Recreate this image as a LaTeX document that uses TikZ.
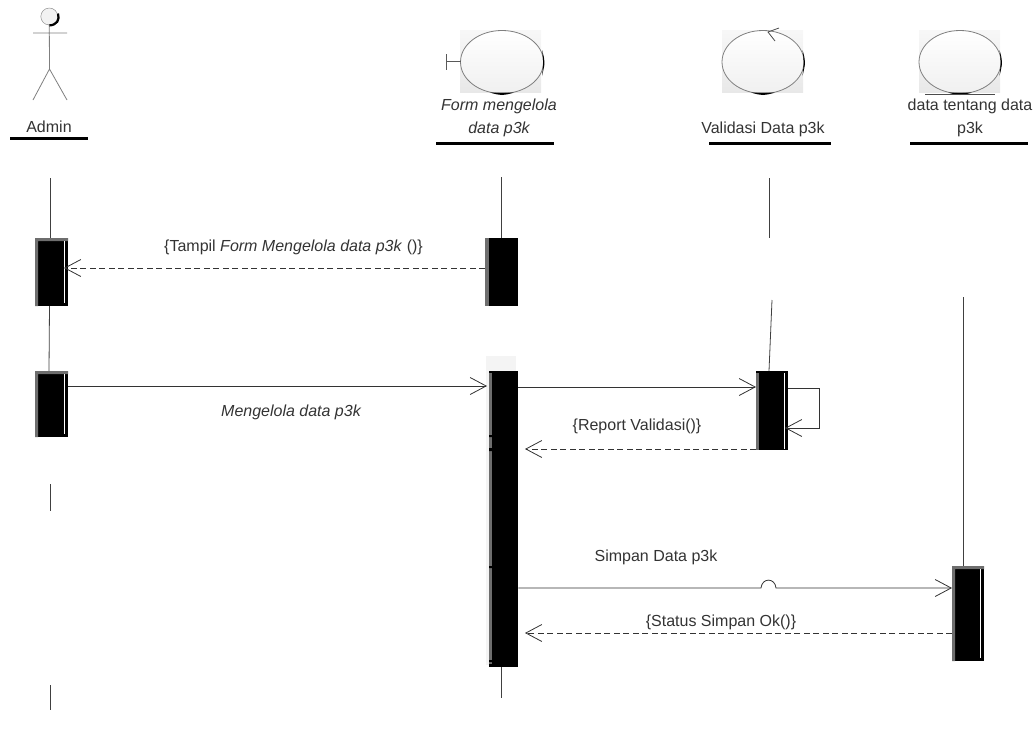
\documentclass[tikz,border=0pt]{standalone}
\usepackage{fontspec}
\setmainfont{Liberation Sans}
\usetikzlibrary{arrows.meta,calc}
\definecolor{txt}{HTML}{333333}
\definecolor{ringc}{HTML}{7F7F7F}
\definecolor{stripc}{HTML}{6E6E6E}
\definecolor{backc}{HTML}{EDEDED}
\tikzset{
  x=1pt,y=-1pt,
  lbl/.style={inner sep=0pt,text=txt,font=\fontsize{16}{23}\selectfont,align=center},
  hdr/.style={line width=3pt,black},
  life/.style={line width=0.8pt,black!75},
  barb/.style={-{Straight Barb[length=16pt,width=17pt,line width=0.8pt]}},
  msg/.style={line width=0.8pt,black!80,barb},
  ret/.style={msg,dash pattern=on 6pt off 3.5pt},
  actbox/.style={fill=black,draw=none,inner sep=0pt,anchor=north west},
  backbox/.style={fill=backc!60,draw=none,inner sep=0pt,anchor=north west},
}
\begin{document}
\begin{tikzpicture}
\useasboundingbox (0,0) rectangle (1034,737);
% Actor
\node[draw=ringc,fill=black!5,circle,minimum size=17pt,inner sep=0pt] (head) at (49.3,16.5) {};
\draw[line width=2.2pt,black] (58,13.5) .. controls (60,20) and (57,25) .. (49,25.5);
\coordinate (shL) at (33,33); \coordinate (shR) at (67,33);
\coordinate (hip) at (49.5,69); \coordinate (lL) at (33,100); \coordinate (lR) at (67,100);
\draw[ringc,line width=0.8pt] (head.south) -- (hip) (shL) -- (shR) (hip) -- (lL) (hip) -- (lR);
% Entities with boundary, control and data marks
\foreach \nm/\bx/\cx/\rx in {bF/460/502/41.5,bV/722/763/41,bD/919/960/41}{
  \fill[top color=black!3,bottom color=black!9] (\bx,30) rectangle (\bx+81,92.5);
  \draw[ringc,line width=0.8pt,top color=white,bottom color=black!6] (\cx,62) ellipse[x radius=\rx,y radius=31.5];
  \coordinate (\nm) at (\cx,62);
  \fill[black] (\cx-12,92.6) .. controls (\cx,95.8) .. (\cx+12,92.6) .. controls (\cx,93.5) .. cycle;
  \fill[black] (\cx+\rx-1.5,50) .. controls (\cx+\rx+1.8,62) .. (\cx+\rx-1.5,76) .. controls (\cx+\rx,62) .. cycle;
}
\coordinate (tA) at (446.5,61); \coordinate (tB) at (446.5,54); \coordinate (tC) at (446.5,70); \coordinate (tE) at (461,61);
\draw[ringc!70!black,line width=0.8pt] (tB) -- (tC) (tA) -- (tE);
\coordinate (cA) at (768,32); \coordinate (cB) at (779,28); \coordinate (cC) at (775,41);
\draw[black!70,line width=0.8pt] (cB) -- (cA) -- (cC);
\coordinate (uL) at (925,94); \coordinate (uR) at (995,94);
\draw[black!70,line width=0.8pt] (uL) -- (uR);
% Header labels
\node[lbl] (lAdmin) at (49,127) {Admin};
\node[lbl] (lForm) at (499,118) {\itshape Form mengelola\\\itshape data p3k};
\node[lbl] (lVal) at (763,129) {Validasi Data p3k};
\node[lbl] (lData) at (970,118) {data tentang data\\p3k};
\draw[hdr] (10,138) -- (88,138);
\draw[hdr] (436,143) -- (554,143);
\draw[hdr] (709,143) -- (831,143);
\draw[hdr] (910,143) -- (1028,143);
% Activation boxes
\node[backbox,minimum width=30pt,minimum height=309pt] (fBack) at (486,356) {};
\node[actbox,minimum width=33pt,minimum height=68pt] (aA1) at (35,238) {};
\node[actbox,minimum width=33pt,minimum height=66pt] (aA2) at (35,371) {};
\node[actbox,minimum width=33pt,minimum height=68pt] (aF1) at (485,238) {};
\node[actbox,minimum width=29pt,minimum height=296pt] (aF2) at (489,371) {};
\node[actbox,minimum width=32pt,minimum height=79pt] (aV) at (756,371) {};
\node[actbox,minimum width=32pt,minimum height=95pt] (aD) at (952,566) {};
% gray strips and white lines
\fill[stripc] (35,238) rectangle (38,306) (35,238) rectangle (68,241);
\fill[stripc] (35,371) rectangle (38,437) (35,371) rectangle (68,374);
\fill[stripc] (485,238) rectangle (489,306);
\fill[stripc] (489,373) rectangle (492,664);
\fill[stripc] (756,373) rectangle (759,450);
\fill[stripc] (952,566) rectangle (955,661) (952,566) rectangle (984,569);
\fill[black] (489,435) rectangle (492,437) (489,448) rectangle (492,451) (489,566) rectangle (492,568) (489,660) rectangle (492,662);
\draw[white,line width=0.7pt] (64.5,241) -- (64.5,303) (64.5,374) -- (64.5,434) (784.5,373) -- (784.5,449) (980,569) -- (980,658);
% Lifelines
\coordinate (lA0) at (50,178); \coordinate (lA1) at (50,484); \coordinate (lA2) at (50,511);
\coordinate (lA3) at (50,685); \coordinate (lA4) at (50,710);
\coordinate (lF0) at (501,177); \coordinate (lF1) at (501,698);
\coordinate (lV0) at (769,178); \coordinate (lV1) at (769,238); \coordinate (lV2) at (772,300); \coordinate (lV3) at (769,371);
\coordinate (lD0) at (963,297);
\coordinate (a1b) at (49.5,306); \coordinate (a2t) at (49,371);
\draw[life] (lA0) -- (lA0 |- aA1.north);
\draw[life] (a1b) -- (a2t);
\draw[life] (lA1) -- (lA2) (lA3) -- (lA4);
\draw[life] (lF0) -- (lF0 |- aF1.north);
\draw[life] (lF1 |- aF2.south) -- (lF1);
\draw[life] (lV0) -- (lV1);
\draw[life] (lV2) -- (lV3);
\draw[life] (lD0) -- (lD0 |- aD.north);
% Messages
\coordinate (t1) at (64,268); \coordinate (t2) at (487,386); \coordinate (t3) at (785,428);
\coordinate (t4) at (525,449); \coordinate (t5) at (525,633);
\coordinate (y387) at (0,387); \coordinate (y388) at (0,388); \coordinate (y588) at (0,588);
\draw[ret] (aF1.west |- t1) -- (t1);
\draw[msg] (aA2.east |- t2) -- (t2);
\draw[msg] (aF2.east |- y387) -- (aV.west |- y387);
\draw[msg] (aV.east |- y388) -- (819,388) -- (819,428) -- (t3);
\draw[ret] (aV.west |- t4) -- (t4);
\draw[msg] (aF2.east |- y588) -- (761,588) .. controls (762,577.5) and (775,577.5) .. (776,588) -- (aD.west |- y588);
\draw[ret] (aD.west |- t5) -- (t5);
% Message labels
\node[lbl] (m1) at (293.5,247) {\{Tampil \textit{Form Mengelola data p3k} ()\}};
\node[lbl] (m2) at (291,412.5) {\itshape Mengelola data p3k};
\node[lbl] (m3) at (637,426) {\{Report Validasi()\}};
\node[lbl] (m4) at (656,557) {Simpan Data p3k};
\node[lbl] (m5) at (721,622) {\{Status Simpan Ok()\}};
\end{tikzpicture}
\end{document}
